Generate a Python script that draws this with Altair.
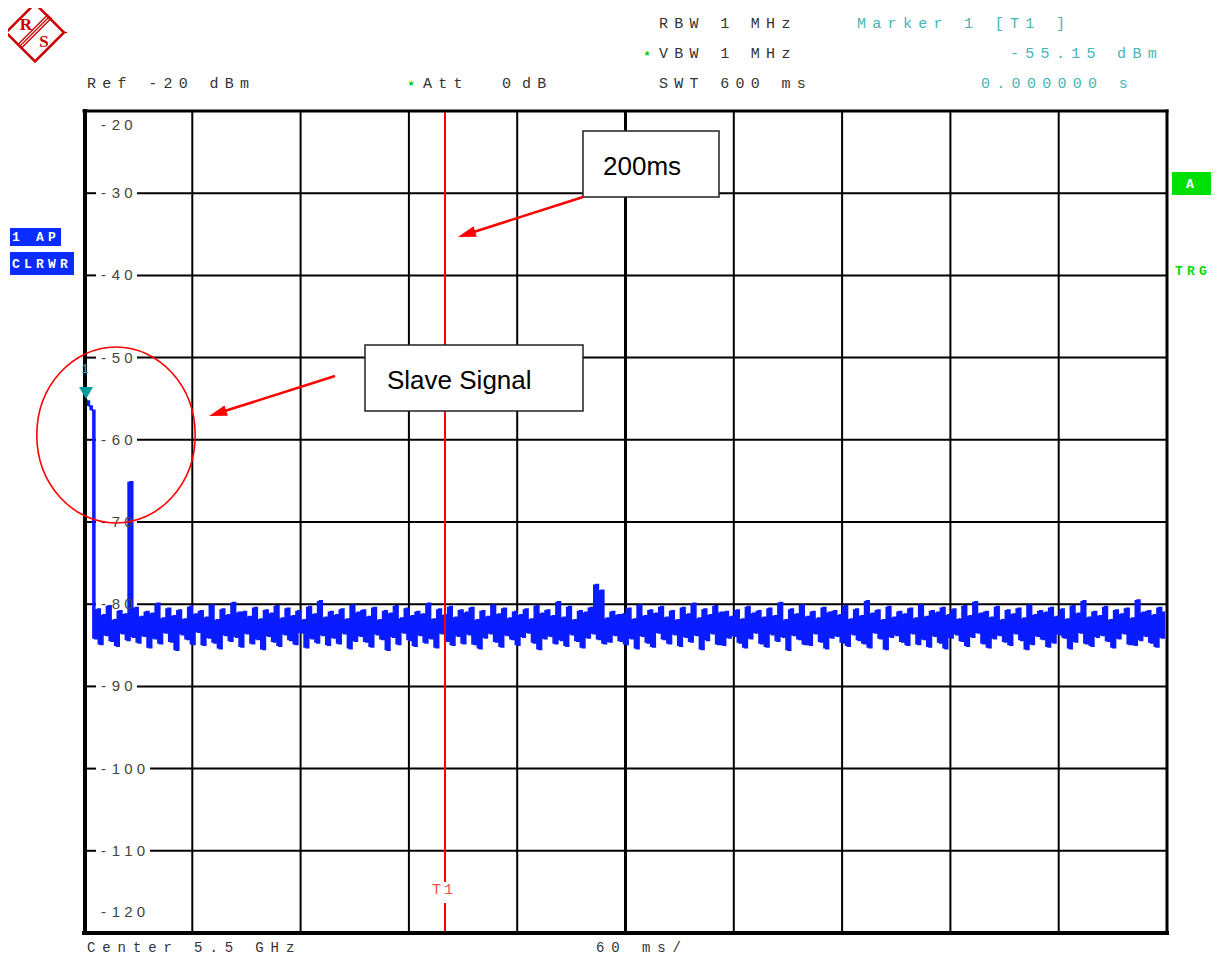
import math
import altair as alt
import pandas as pd
import numpy as np

# ---------------- data ----------------
SWEEP_MS = 600.0
SAMPLE_STEP_MS = 1.5
TRACE_DBM = [
    -55.15, -55.3, -55.9, -56.4, -84.2, -80.6, -84.9, -81.3, -83.8, -80.2, -84.5, -81.9, -85.1, -80.8, -83.6, -81.2, -84.4, -65.1, -84.0, -80.4,
    -84.7, -81.5, -83.9, -80.9, -85.3, -81.1, -84.2, -79.9, -84.8, -81.7, -83.5, -80.5, -84.6, -81.4, -85.6, -80.7, -83.7, -81.8, -84.3, -80.3,
    -84.9, -81.2, -83.4, -80.8, -85.0, -81.6, -84.1, -80.1, -84.7, -81.9, -85.4, -80.6, -83.8, -81.3, -84.5, -79.8, -84.0, -81.0, -85.2, -80.9,
    -83.6, -81.5, -84.8, -80.4, -84.3, -81.8, -85.5, -80.7, -83.9, -81.1, -84.6, -80.2, -85.1, -81.7, -83.7, -80.5, -84.4, -81.4, -84.9, -80.8,
    -83.5, -81.9, -85.3, -80.3, -84.2, -81.2, -84.7, -79.6, -83.8, -81.6, -85.0, -80.9, -84.1, -81.3, -84.8, -80.6, -83.6, -81.8, -85.4, -80.1,
    -84.5, -81.0, -83.9, -80.7, -84.6, -81.5, -85.2, -80.4, -83.7, -81.9, -84.3, -80.8, -85.6, -81.1, -84.0, -80.2, -84.9, -81.7, -83.5, -80.5,
    -84.4, -81.4, -85.1, -80.9, -83.8, -81.2, -84.7, -79.9, -84.2, -81.8, -85.3, -80.6, -83.6, -81.3, -84.5, -80.3, -85.0, -81.6, -83.9, -80.7,
    -84.8, -81.0, -83.7, -80.4, -84.9, -81.9, -85.4, -80.8, -84.1, -81.5, -83.6, -80.1, -84.6, -81.2, -85.2, -80.5, -83.8, -81.7, -84.3, -80.9,
    -85.0, -81.3, -84.0, -80.6, -83.5, -81.8, -84.7, -80.2, -85.5, -81.1, -84.2, -80.7, -83.9, -81.4, -84.8, -79.7, -84.4, -81.6, -85.1, -80.3,
    -83.7, -81.9, -84.5, -80.8, -85.3, -81.0, -84.1, -80.4, -83.6, -77.6, -84.3, -78.3, -84.8, -81.7, -84.6, -80.9, -83.8, -81.3, -84.5, -81.2,
    -84.9, -80.5, -84.2, -81.8, -85.4, -80.1, -83.9, -81.4, -84.7, -80.7, -85.2, -81.1, -83.5, -80.3, -84.3, -81.6, -84.8, -80.8, -83.7, -81.9,
    -85.1, -80.4, -84.0, -81.2, -84.6, -79.9, -83.8, -81.7, -85.5, -80.6, -84.4, -81.3, -83.6, -80.2, -84.9, -81.0, -85.0, -80.9, -84.1, -81.5,
    -83.9, -80.7, -84.7, -81.8, -85.3, -80.3, -84.2, -81.1, -83.5, -80.8, -84.8, -81.6, -85.2, -80.5, -83.7, -81.4, -84.5, -79.8, -84.0, -81.9,
    -85.6, -80.6, -83.8, -81.2, -84.3, -80.1, -84.9, -81.5, -85.0, -80.9, -83.6, -81.7, -84.6, -80.4, -85.4, -81.0, -84.1, -80.8, -83.9, -81.3,
    -84.7, -80.2, -85.1, -81.8, -83.7, -80.6, -84.4, -81.4, -84.8, -79.6, -85.3, -81.1, -83.5, -80.7, -84.2, -81.9, -85.5, -80.3, -84.0, -81.6,
    -83.8, -80.9, -84.6, -81.2, -85.0, -80.5, -83.6, -81.7, -84.9, -80.1, -84.3, -81.5, -85.2, -80.8, -83.9, -81.0, -84.7, -80.4, -85.4, -81.3,
    -84.1, -80.6, -83.7, -81.8, -84.5, -80.2, -85.1, -81.4, -84.0, -79.7, -83.5, -81.1, -84.8, -80.9, -85.3, -81.6, -84.2, -80.3, -83.8, -81.9,
    -84.6, -80.7, -85.0, -81.2, -83.6, -80.5, -84.4, -81.7, -85.5, -80.1, -84.9, -81.3, -83.9, -80.8, -84.3, -81.0, -85.2, -80.4, -84.7, -81.5,
    -83.7, -80.6, -84.1, -81.8, -85.4, -80.2, -84.6, -81.1, -83.5, -79.6, -84.8, -81.6, -85.1, -80.9, -84.0, -81.4, -83.8, -80.3, -84.5, -81.9,
    -85.3, -80.7, -84.2, -81.2, -83.6, -80.5, -84.9, -81.7, -85.0, -79.5, -84.4, -81.0, -83.9, -80.8, -84.7, -81.3, -85.2, -80.4, -84.1, -80.9,
]
GRID_T = [60, 120, 180, 240, 360, 420, 480, 540]
CENTER_T = 300
GRID_DB = [-30, -40, -50, -60, -70, -80, -90, -100, -110]
Y_LABEL_VALUES = [-20, -30, -40, -50, -60, -70, -80, -90, -100, -110, -120]
MARKER_T1_MS = 200
MARKER_DBM = -55.15

# ---------------- geometry helpers (page px -> data) ----------------
X0, Y0, W, H = 84, 111, 1083, 822


def px2t(x):
    return (x - X0) * SWEEP_MS / W


def py2db(y):
    return -20.0 - (y - Y0) * 100.0 / H


def db2py(d):
    return Y0 + (-20.0 - d) * H / 100.0


XS = alt.Scale(domain=[0, SWEEP_MS], nice=False, zero=False)
YS = alt.Scale(domain=[-120, -20], nice=False, zero=False)


def X(f):
    return alt.X(f, type="quantitative", scale=XS, axis=None)


def Y(f):
    return alt.Y(f, type="quantitative", scale=YS, axis=None)


def chars(text, x0, y, adv):
    return [{"t": px2t(x0 + i * adv), "db": py2db(y), "ch": c}
            for i, c in enumerate(text) if c != " "]


def text_layer(rows, **mk):
    return alt.Chart(pd.DataFrame(rows)).mark_text(**mk).encode(
        x=X("t"), y=Y("db"), text=alt.Text("ch:N"))


def seg_layer(rows, **mk):
    return alt.Chart(pd.DataFrame(rows)).mark_rule(**mk).encode(
        x=X("x1"), x2=alt.X2("x2"), y=Y("y1"), y2=alt.Y2("y2"))


def rect_layer(rows, **mk):
    return alt.Chart(pd.DataFrame(rows)).mark_rect(**mk).encode(
        x=X("x1"), x2=alt.X2("x2"), y=Y("y1"), y2=alt.Y2("y2"))


layers = []

# grid
layers.append(alt.Chart(pd.DataFrame({"t": GRID_T})).mark_rule(color="black", strokeWidth=2).encode(
    x=X("t"), y=alt.value(0), y2=alt.value(H)))
layers.append(alt.Chart(pd.DataFrame({"t": [CENTER_T]})).mark_rule(color="black", strokeWidth=3).encode(
    x=X("t"), y=alt.value(0), y2=alt.value(H)))
hseg = []
for g in GRID_DB:
    gap_end = 150 if g <= -100 else 137
    hseg.append({"x1": 0, "x2": px2t(96), "y1": g, "y2": g})
    hseg.append({"x1": px2t(gap_end), "x2": SWEEP_MS, "y1": g, "y2": g})
layers.append(seg_layer(hseg, color="black", strokeWidth=2))

# trace (auto-peak style: band between neighbouring samples plus the trace itself)
TRACE_BLUE = "#0a1cff"
trace_df = pd.DataFrame({"t": np.arange(len(TRACE_DBM)) * SAMPLE_STEP_MS, "db": TRACE_DBM})
layers.append(alt.Chart(trace_df).transform_window(
    hi="max(db)", lo="min(db)", frame=[0, 1], sort=[alt.SortField("t")]
).mark_area(color=TRACE_BLUE, interpolate="step-after", opacity=1).encode(
    x=X("t"), y=Y("hi"), y2=alt.Y2("lo")))
layers.append(alt.Chart(trace_df).mark_line(color=TRACE_BLUE, strokeWidth=1.6,
                                            interpolate="step-after").encode(x=X("t"), y=Y("db")))

# y labels (drawn over the trace)
lab_rows = []
for v in Y_LABEL_VALUES:
    s = str(v)
    if v == -20:
        yy = 125
    elif v == -120:
        yy = 912
    else:
        yy = db2py(v)
    for i, c in enumerate(s):
        lab_rows.append({"t": px2t(103.5 + i * 12.5), "db": py2db(yy), "ch": c})
layers.append(text_layer(lab_rows, align="center", baseline="middle", font="Liberation Sans",
                         fontSize=15, color="#444444"))

# T1 marker line
layers.append(seg_layer([
    {"x1": MARKER_T1_MS, "x2": MARKER_T1_MS, "y1": -20, "y2": py2db(882)},
    {"x1": MARKER_T1_MS, "x2": MARKER_T1_MS, "y1": py2db(903), "y2": -120},
], color="#ff0000", strokeWidth=2))
layers.append(text_layer(chars("T1", 432, 889, 12), align="left", baseline="middle",
                         font="Liberation Mono", fontSize=15, color="#ff4d4d"))

# border
layers.append(seg_layer([
    {"x1": 0, "x2": SWEEP_MS, "y1": -20, "y2": -20},
    {"x1": SWEEP_MS, "x2": SWEEP_MS, "y1": -20, "y2": -120},
], color="black", strokeWidth=3, strokeCap="square"))
layers.append(seg_layer([
    {"x1": 0, "x2": SWEEP_MS, "y1": -120, "y2": -120},
    {"x1": px2t(85), "x2": px2t(85), "y1": -20, "y2": -120},
], color="black", strokeWidth=4, strokeCap="square"))

# marker 1 triangle
layers.append(alt.Chart(pd.DataFrame({"t": [px2t(86)], "db": [py2db(393)]})).mark_point(
    shape="triangle-down", size=196, filled=True, color="#009c9c", opacity=1).encode(x=X("t"), y=Y("db")))
layers.append(text_layer(chars("1", 81, 369, 10), align="left", baseline="middle",
                         font="Liberation Mono", fontSize=13, color="#3aa8a8"))

# ellipse
ELLIPSE = "M-0.9,0A0.9,1,0,1,0,0.9,0A0.9,1,0,1,0,-0.9,0Z"
layers.append(alt.Chart(pd.DataFrame({"t": [px2t(116)], "db": [py2db(435)]})).mark_point(
    shape=ELLIPSE, size=(2 * 88) ** 2, filled=False, stroke="#ff0000", strokeWidth=1.6, opacity=1).encode(
    x=X("t"), y=Y("db")))

# annotation boxes
layers.append(rect_layer([
    {"x1": px2t(583), "x2": px2t(719), "y1": py2db(131), "y2": py2db(197)},
    {"x1": px2t(365), "x2": px2t(583), "y1": py2db(345), "y2": py2db(411)},
], fill="white", stroke="#222222", strokeWidth=1.5))
ann = [
    {"t": px2t(603), "db": py2db(167), "ch": "200ms"},
    {"t": px2t(387), "db": py2db(381), "ch": "Slave Signal"},
]
layers.append(text_layer(ann, align="left", baseline="middle", font="Liberation Sans",
                         fontSize=26, color="black"))

# arrows
arrows = [((583, 197), (458, 237)), ((335, 376), (209, 416))]
arr_lines, arr_heads = [], []
HEAD_LEN = 18
for (sx, sy), (tx, ty) in arrows:
    dx, dy = tx - sx, ty - sy
    L = math.hypot(dx, dy)
    ux, uy = dx / L, dy / L
    cx, cy = tx - ux * HEAD_LEN / 2, ty - uy * HEAD_LEN / 2
    arr_lines.append({"x1": px2t(sx), "x2": px2t(cx), "y1": py2db(sy), "y2": py2db(cy)})
    ang = (math.degrees(math.atan2(dy, dx)) + 90) % 360
    arr_heads.append({"t": px2t(cx), "db": py2db(cy), "ang": ang})
layers.append(seg_layer(arr_lines, color="#ff0000", strokeWidth=2.5))
layers.append(alt.Chart(pd.DataFrame(arr_heads)).mark_point(
    shape="M0,-1L0.6,1L-0.6,1Z", size=(HEAD_LEN) ** 2, filled=True, color="#ff0000", opacity=1).encode(
    x=X("t"), y=Y("db"), angle=alt.Angle("ang:Q", scale=None)))

# header texts
ADV = 15.3
grey_rows = (chars("Ref -20 dBm", 87, 83, ADV) + chars("Att", 423, 83, ADV) + chars("0", 502, 83, ADV)
             + chars("dB", 522, 83, ADV) + chars("RBW 1 MHz", 659, 23, ADV) + chars("VBW 1 MHz", 659, 53, ADV)
             + chars("SWT 600 ms", 659, 83, ADV))
layers.append(text_layer(grey_rows, align="left", baseline="middle", font="Liberation Mono",
                         fontSize=15, color="#333333"))
bottom_rows = chars("Center 5.5 GHz", 87, 948, ADV) + chars("60 ms/", 596, 948, ADV)
layers.append(text_layer(bottom_rows, align="left", baseline="middle", font="Liberation Mono",
                         fontSize=14, color="#333333"))
teal_rows = (chars("Marker 1 [T1 ]", 857, 23, ADV) + chars("-55.15 dBm", 1010, 53, ADV)
             + chars("0.000000 s", 981, 83, ADV))
layers.append(text_layer(teal_rows, align="left", baseline="middle", font="Liberation Mono",
                         fontSize=15, color="#45b5b5"))
stars = [{"t": px2t(411), "db": py2db(84), "ch": "\u2605"}, {"t": px2t(647), "db": py2db(54), "ch": "\u2605"}]
layers.append(text_layer(stars, align="center", baseline="middle", font="DejaVu Sans",
                         fontSize=8, color="#00cc00"))

# side boxes
layers.append(rect_layer([
    {"x1": px2t(10), "x2": px2t(61), "y1": py2db(228), "y2": py2db(246)},
    {"x1": px2t(10), "x2": px2t(74), "y1": py2db(252), "y2": py2db(275)},
], fill="#0a2cff", stroke=None))
layers.append(rect_layer([
    {"x1": px2t(1172), "x2": px2t(1211), "y1": py2db(172), "y2": py2db(195)},
], fill="#00e000", stroke=None))
white_rows = chars("1 AP", 12, 237, 12) + chars("CLRWR", 12, 263.5, 12) + chars("A", 1186, 184, 12)
layers.append(text_layer(white_rows, align="left", baseline="middle", font="Liberation Mono",
                         fontSize=13, fontWeight="bold", color="white"))
layers.append(text_layer(chars("TRG", 1175, 271, 12), align="left", baseline="middle",
                         font="Liberation Mono", fontSize=13, fontWeight="bold", color="#00dd00"))

# R&S logo
layers.append(alt.Chart(pd.DataFrame({"t": [px2t(35)], "db": [py2db(32.5)]})).mark_point(
    shape="diamond", size=58 ** 2, filled=False, stroke="#cc0000", strokeWidth=2.5, opacity=1).encode(
    x=X("t"), y=Y("db")))
band = []
for k in (-1, 0, 1):
    ox, oy = 1.8 * k, 1.8 * k
    band.append({"x1": px2t(19 + ox), "x2": px2t(50 + ox), "y1": py2db(47 + oy), "y2": py2db(16 + oy)})
band.append({"x1": px2t(63), "x2": px2t(67), "y1": py2db(32.5), "y2": py2db(32.5)})
layers.append(seg_layer(band, color="#cc0000", strokeWidth=1.3))
logo_txt = [{"t": px2t(26), "db": py2db(25), "ch": "R"}, {"t": px2t(44), "db": py2db(42), "ch": "S"}]
layers.append(text_layer(logo_txt, align="center", baseline="middle", font="Liberation Serif",
                         fontSize=17, fontWeight="bold", color="#cc0000"))

chart = alt.layer(*layers).properties(
    width=W, height=H,
    padding={"left": 76, "top": 103, "right": 52, "bottom": 23},
    autosize=alt.AutoSizeParams(type="none"),
    background="white",
).configure_view(stroke=None)

chart.save("out.html", embed_options={"renderer": "svg", "actions": False})
